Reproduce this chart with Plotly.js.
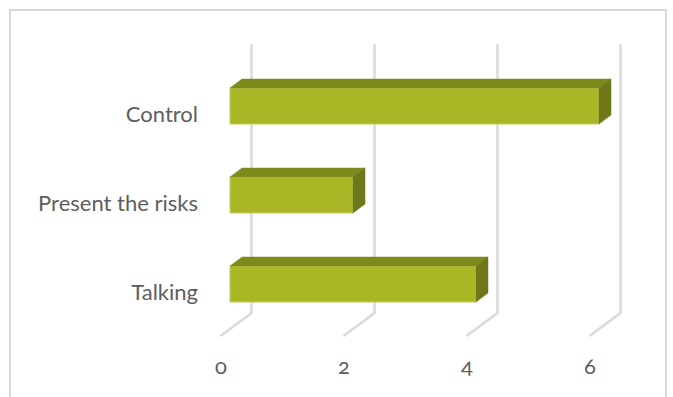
<!DOCTYPE html>
<html><head><meta charset="utf-8">
<script src="https://cdn.plot.ly/plotly-3.0.1.min.js"></script>
<style>
html,body{margin:0;padding:0;background:#fff;overflow:hidden}
#chart{width:673px;height:397px}
.xtick text{font-feature-settings:"onum" 1;font-variant-numeric:oldstyle-nums}
</style></head><body><div id="chart"></div>
<script>
const categories = ["Talking", "Present the risks", "Control"];
const values = [4, 2, 6];
const xTicks = [0, 2, 4, 6];

const COLOR_FRONT = "#A9B727", COLOR_TOP = "#7F8A1D", COLOR_SIDE = "#6E771A";
const COLOR_EDGE = "#C3CE5C", COLOR_GRID = "#DADADA", COLOR_TEXT = "#5E5E5E";

// pixel geometry of the plot area
const L = 205, R = 640, T = 30, B = 345, W = 673, H = 397;
const pxX = 61.5, pxY = 89, x0Px = 230, y0Px = 284;
const xRange = [(L - x0Px) / pxX, (R - x0Px) / pxX];
const yRange = [(y0Px - B) / pxY, (y0Px - T) / pxY];
const barH = 36 / pxY, depthX = 12 / pxX, depthY = 9 / pxY;
const ys = categories.map((_, i) => i);

const traces = [];
// back wall + floor gridlines, below all traces
const wallX = 21.5 / pxX, floorX = -9.5 / pxX;
const wallTop = (y0Px - 44) / pxY, wallFloor = (y0Px - 313) / pxY, frontFloor = (y0Px - 336) / pxY;
const gridShapes = xTicks.map(v => ({
  type: "path", xref: "x", yref: "y", layer: "below",
  path: `M ${v + wallX} ${wallTop} L ${v + wallX} ${wallFloor} L ${v + floorX} ${frontFloor}`,
  line: {color: COLOR_GRID, width: 2.5}
}));
// front faces
traces.push({type: "bar", orientation: "h", x: values, y: ys, width: barH, showlegend: false,
  marker: {color: COLOR_FRONT, line: {color: COLOR_EDGE, width: 1}}});
// top and side faces of every bar
values.forEach((v, i) => {
  const t = i + barH / 2, b = i - barH / 2;
  traces.push({type: "scatter", mode: "lines", fill: "toself", hoverinfo: "skip", showlegend: false,
    x: [0, v, v + depthX, depthX, 0], y: [t, t, t + depthY, t + depthY, t],
    fillcolor: COLOR_TOP, line: {color: COLOR_TOP, width: 0.5}});
  traces.push({type: "scatter", mode: "lines", fill: "toself", hoverinfo: "skip", showlegend: false,
    x: [v, v + depthX, v + depthX, v, v], y: [t, t + depthY, b + depthY, b, t],
    fillcolor: COLOR_SIDE, line: {color: COLOR_SIDE, width: 0.5}});
});

const px = x => (x - L) / (R - L), py = y => (B - y) / (B - T);
const layout = {
  width: W, height: H, paper_bgcolor: "#fff", plot_bgcolor: "rgba(0,0,0,0)",
  margin: {l: L, r: W - R, t: T, b: H - B}, showlegend: false, barmode: "overlay",
  font: {family: "Lato, 'Open Sans', sans-serif", color: COLOR_TEXT, size: 22},
  xaxis: {range: xRange, tickmode: "array", tickvals: xTicks, ticktext: xTicks.map(String),
    showgrid: false, zeroline: false, showline: false, ticks: "", ticklabelshift: -9, ticklabelstandoff: 6,
    tickfont: {size: 22, color: COLOR_TEXT}},
  yaxis: {range: yRange, tickmode: "array", tickvals: ys, ticktext: categories,
    showgrid: false, zeroline: false, showline: false, ticks: "", ticklabelstandoff: 6, ticklabelshift: 8,
    tickfont: {size: 22, color: COLOR_TEXT}},
  shapes: gridShapes.concat([{type: "path", xref: "paper", yref: "paper",
    path: `M ${px(10)} ${py(397)} L ${px(10)} ${py(10)} L ${px(666)} ${py(10)} L ${px(666)} ${py(397)}`,
    line: {color: COLOR_GRID, width: 2}}])
};
Plotly.newPlot("chart", traces, layout, {displayModeBar: false, responsive: false});
</script></body></html>
